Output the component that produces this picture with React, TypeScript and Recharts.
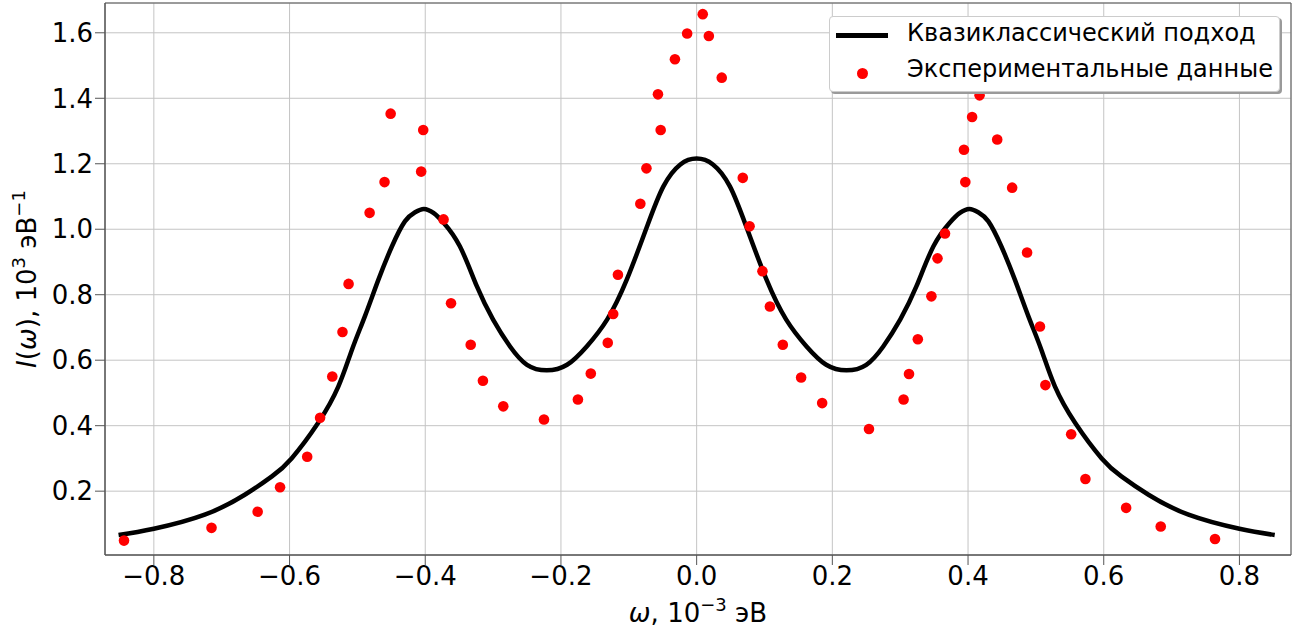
import React from "react";
import {
  ComposedChart,
  Line,
  Scatter,
  XAxis,
  YAxis,
  CartesianGrid,
  ReferenceArea,
} from "recharts";

// ---- semiclassical curve ----
const curveW = [
  -0.852, -0.8, -0.725, -0.666, -0.626, -0.597, -0.558, -0.528, -0.508, -0.489,
  -0.469, -0.449, -0.43, -0.415, -0.402, -0.388, -0.373, -0.349, -0.324, -0.3,
  -0.275, -0.25, -0.221, -0.191, -0.162, -0.132, -0.103, -0.073, -0.049, -0.024,
  0.0, 0.024, 0.049, 0.073, 0.103, 0.132, 0.162, 0.191, 0.221, 0.25, 0.275,
  0.3, 0.324, 0.349, 0.373, 0.388, 0.402, 0.415, 0.43, 0.449, 0.469, 0.489,
  0.508, 0.528, 0.558, 0.597, 0.626, 0.666, 0.725, 0.8, 0.852,
];
const curveI = [
  0.066, 0.085, 0.128, 0.189, 0.245, 0.3, 0.408, 0.52, 0.632, 0.734, 0.846,
  0.948, 1.024, 1.052, 1.062, 1.05, 1.02, 0.948, 0.826, 0.724, 0.642, 0.586,
  0.569, 0.586, 0.642, 0.724, 0.846, 1.009, 1.131, 1.198, 1.216, 1.198, 1.131,
  1.009, 0.846, 0.724, 0.642, 0.586, 0.569, 0.586, 0.642, 0.724, 0.826, 0.948,
  1.02, 1.05, 1.062, 1.052, 1.024, 0.948, 0.846, 0.734, 0.632, 0.52, 0.408,
  0.3, 0.245, 0.189, 0.128, 0.085, 0.066,
];

// ---- experimental points ----
const expW = [
  -0.844, -0.715, -0.647, -0.614, -0.574, -0.555, -0.537, -0.522, -0.513,
  -0.482, -0.46, -0.451, -0.406, -0.403, -0.373, -0.362, -0.333, -0.315,
  -0.285, -0.225, -0.175, -0.156, -0.131, -0.123, -0.116, -0.083, -0.074,
  -0.057, -0.053, -0.032, -0.014, 0.009, 0.018, 0.037, 0.068, 0.078, 0.097,
  0.108, 0.127, 0.154, 0.185, 0.254, 0.305, 0.313, 0.326, 0.346, 0.355, 0.366,
  0.394, 0.396, 0.406, 0.417, 0.443, 0.465, 0.487, 0.506, 0.514, 0.552, 0.573,
  0.633, 0.684, 0.764,
];
const expI = [
  0.049, 0.088, 0.137, 0.212, 0.305, 0.424, 0.55, 0.686, 0.833, 1.05, 1.144,
  1.353, 1.176, 1.303, 1.03, 0.774, 0.647, 0.537, 0.459, 0.419, 0.48, 0.559,
  0.653, 0.741, 0.861, 1.078, 1.186, 1.412, 1.303, 1.519, 1.598, 1.657, 1.59,
  1.463, 1.157, 1.009, 0.872, 0.764, 0.647, 0.547, 0.469, 0.39, 0.48, 0.558,
  0.664, 0.795, 0.911, 0.987, 1.243, 1.144, 1.343, 1.409, 1.274, 1.127, 0.929,
  0.703, 0.524, 0.374, 0.237, 0.149, 0.092, 0.054,
];

const xTicks = [-0.8, -0.6, -0.4, -0.2, 0.0, 0.2, 0.4, 0.6, 0.8];
const yTicks = [0.2, 0.4, 0.6, 0.8, 1.0, 1.2, 1.4, 1.6];

const curveData = curveW.map((x, i) => ({ x, y: curveI[i] }));
const expData = expW.map((x, i) => ({ x, y: expI[i] }));

const X_DOMAIN: [number, number] = [-0.872, 0.876];
const Y_DOMAIN: [number, number] = [0.005, 1.691];

const FONT = "DejaVu Sans";
const fmt = (v: number) => v.toFixed(1).replace("-", "\u2212");

//========== axis titles ===========
const XTitle = (props: any) => {
  const vb = props.viewBox || {};
  const cx = vb.x + vb.width / 2;
  return (
    <text x={cx} y={622} textAnchor="middle" fontFamily={FONT} fontSize={26} fill="#000">
      <tspan fontStyle="italic">ω</tspan>
      <tspan>, 10</tspan>
      <tspan dy={-11} fontSize={18}>−3</tspan>
      <tspan dy={11}> эВ</tspan>
    </text>
  );
};

const YTitle = (props: any) => {
  const vb = props.viewBox || {};
  const cy = vb.y + vb.height / 2;
  const x = 36;
  return (
    <text
      x={x}
      y={cy}
      transform={`rotate(-90 ${x} ${cy})`}
      textAnchor="middle"
      fontFamily={FONT}
      fontSize={26}
      fill="#000"
    >
      <tspan fontStyle="italic">I</tspan>
      <tspan>(</tspan>
      <tspan fontStyle="italic">ω</tspan>
      <tspan>), 10</tspan>
      <tspan dy={-11} fontSize={18}>3</tspan>
      <tspan dy={11}> эВ</tspan>
      <tspan dy={-11} fontSize={18}>−1</tspan>
    </text>
  );
};

//========== legend box (overlay) ===========
const LegendBox = () => (
  <div
    style={{
      position: "absolute",
      left: 829,
      top: 16,
      width: 451,
      height: 76,
      background: "#fff",
      border: "1px solid #cccccc",
      borderRadius: 4,
      boxShadow: "2px 2px 0 #9a9a9a",
      fontFamily: FONT,
      fontSize: 24,
      color: "#000",
      boxSizing: "border-box",
    }}
  >
    <div style={{ position: "absolute", left: 6, top: 16, width: 52, height: 4.5, background: "#000" }} />
    <div style={{ position: "absolute", left: 77, top: 2, whiteSpace: "nowrap" }}>
      Квазиклассический подход
    </div>
    <div
      style={{
        position: "absolute",
        left: 27,
        top: 51,
        width: 11,
        height: 11,
        borderRadius: "50%",
        background: "#ff0000",
      }}
    />
    <div style={{ position: "absolute", left: 77, top: 38, whiteSpace: "nowrap" }}>
      Экспериментальные данные
    </div>
  </div>
);

const Dot = (props: any) => (
  <circle cx={props.cx} cy={props.cy} r={5.3} fill="#ff0000" />
);

export default function App() {
  return (
    <div style={{ position: "absolute", left: 0, top: 0, width: 1307, height: 632, background: "#fff" }}>
      <ComposedChart
        width={1307}
        height={632}
        margin={{ top: 3, right: 16, bottom: 0, left: 0 }}
      >
        <CartesianGrid stroke="#c4c4c4" strokeWidth={1} />
        <XAxis
          dataKey="x"
          type="number"
          domain={X_DOMAIN}
          ticks={xTicks}
          allowDataOverflow
          tickFormatter={fmt}
          tickSize={10}
          height={77}
          stroke="#555"
          tick={{ fill: "#000", fontSize: 26, fontFamily: FONT }}
          label={<XTitle />}
        />
        <YAxis
          dataKey="y"
          type="number"
          domain={Y_DOMAIN}
          ticks={yTicks}
          allowDataOverflow
          tickFormatter={fmt}
          tickSize={10}
          width={105}
          stroke="#555"
          tick={{ fill: "#000", fontSize: 26, fontFamily: FONT }}
          label={<YTitle />}
        />
        <ReferenceArea
          x1={X_DOMAIN[0]}
          x2={X_DOMAIN[1]}
          y1={Y_DOMAIN[0]}
          y2={Y_DOMAIN[1]}
          fill="none"
          stroke="#555"
          strokeWidth={1}
        />
        <Line
          data={curveData}
          dataKey="y"
          type="natural"
          stroke="#000"
          strokeWidth={4.5}
          dot={false}
          isAnimationActive={false}
          name="Квазиклассический подход"
        />
        <Scatter
          data={expData}
          fill="#ff0000"
          shape={<Dot />}
          isAnimationActive={false}
          name="Экспериментальные данные"
        />
      </ComposedChart>
      <LegendBox />
    </div>
  );
}
